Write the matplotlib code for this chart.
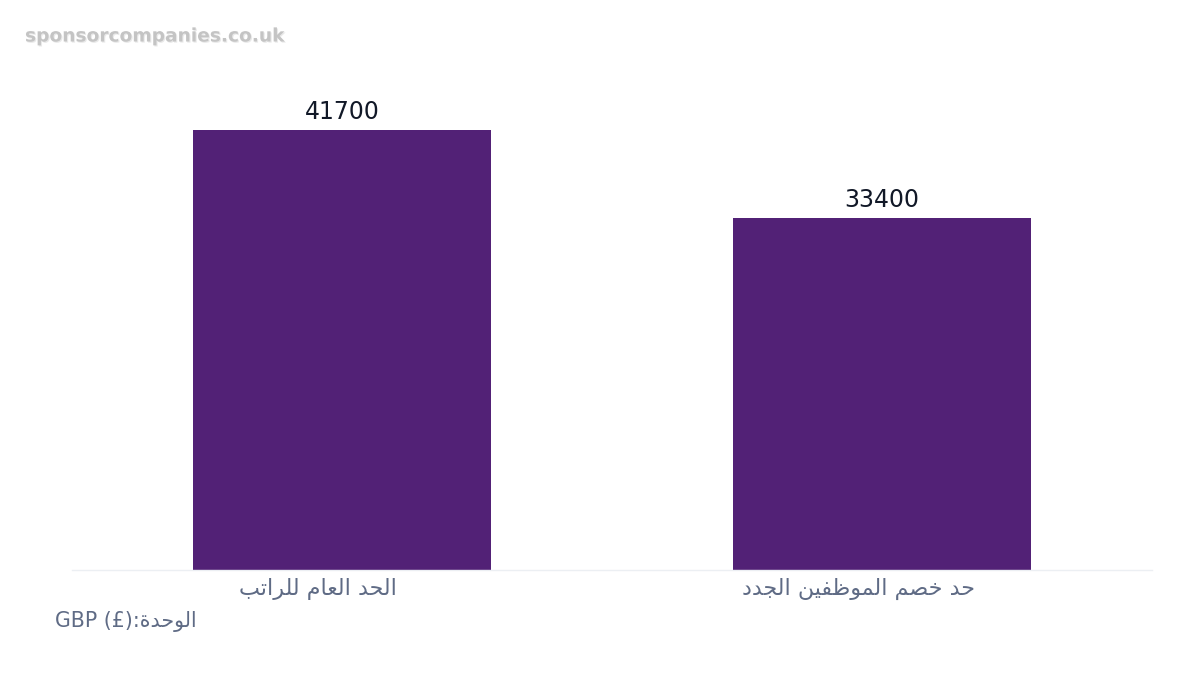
import matplotlib
matplotlib.use("Agg")
import matplotlib.pyplot as plt
from matplotlib.transforms import ScaledTranslation
import matplotlib.patheffects as pe

plt.rcParams["font.family"] = ["DejaVu Sans"]

categories = ["الحد العام للراتب", "حد خصم الموظفين الجدد"]
values = [41700, 33400]
unit_label = "الوحدة:(£) GBP"
watermark = "sponsorcompanies.co.uk"

# matplotlib does no Arabic shaping, so map letters to presentation forms by hand
# letter: (isolated, final, initial, medial) ; None for initial/medial = right-joining only
FORMS = {
    "ا": ("\uFE8D", "\uFE8E", None, None),
    "ب": ("\uFE8F", "\uFE90", "\uFE91", "\uFE92"),
    "ة": ("\uFE93", "\uFE94", None, None),
    "ت": ("\uFE95", "\uFE96", "\uFE97", "\uFE98"),
    "ج": ("\uFE9D", "\uFE9E", "\uFE9F", "\uFEA0"),
    "ح": ("\uFEA1", "\uFEA2", "\uFEA3", "\uFEA4"),
    "خ": ("\uFEA5", "\uFEA6", "\uFEA7", "\uFEA8"),
    "د": ("\uFEA9", "\uFEAA", None, None),
    "ر": ("\uFEAD", "\uFEAE", None, None),
    "ص": ("\uFEB9", "\uFEBA", "\uFEBB", "\uFEBC"),
    "ظ": ("\uFEC5", "\uFEC6", "\uFEC7", "\uFEC8"),
    "ع": ("\uFEC9", "\uFECA", "\uFECB", "\uFECC"),
    "ف": ("\uFED1", "\uFED2", "\uFED3", "\uFED4"),
    "ل": ("\uFEDD", "\uFEDE", "\uFEDF", "\uFEE0"),
    "م": ("\uFEE1", "\uFEE2", "\uFEE3", "\uFEE4"),
    "ن": ("\uFEE5", "\uFEE6", "\uFEE7", "\uFEE8"),
    "و": ("\uFEED", "\uFEEE", None, None),
    "ي": ("\uFEF1", "\uFEF2", "\uFEF3", "\uFEF4"),
}


def shape_word(word):
    out = []
    for i, ch in enumerate(word):
        if ch not in FORMS:
            out.append(ch)
            continue
        iso, fin, ini, med = FORMS[ch]
        prev = word[i - 1] if i > 0 else None
        nxt = word[i + 1] if i + 1 < len(word) else None
        joins_prev = prev in FORMS and FORMS[prev][2] is not None
        joins_next = ini is not None and nxt in FORMS
        if joins_prev and joins_next:
            out.append(med)
        elif joins_prev:
            out.append(fin)
        elif joins_next:
            out.append(ini)
        else:
            out.append(iso)
    return "".join(reversed(out))


def rtl(text):
    return " ".join(shape_word(w) for w in reversed(text.split(" ")))


def unit_text(text):
    arabic, rest = text.split(":", 1)
    rest = rest.strip()
    return rest.split(" ")[1] + " " + rest.split(" ")[0] + ":" + shape_word(arabic)


fig = plt.figure(figsize=(12, 6.75), dpi=100)
ax = fig.add_axes([0.06, 0.1556, 0.90, 0.726])

x = range(len(categories))
bars = ax.bar(x, values, width=0.552, color="#522176", zorder=2)

for b, v in zip(bars, values):
    ax.annotate(str(v), (b.get_x() + b.get_width() / 2, v), xytext=(0, 4),
                textcoords="offset points", ha="center", va="bottom",
                fontsize=17, color="#111827")

ax.set_xlim(-0.5, 1.5)
ax.set_ylim(0, 46440)
ax.set_xticks(list(x))
ax.set_xticklabels([rtl(c) for c in categories], fontsize=16, color="#5f6b85")
ax.tick_params(axis="x", length=0, pad=6)
# labels sit a bit left of the bar centres in the original
shift = ScaledTranslation(-24 / 100, 0, fig.dpi_scale_trans)
for lbl in ax.get_xticklabels():
    lbl.set_transform(lbl.get_transform() + shift)
ax.set_yticks([])
for s in ["top", "right", "left"]:
    ax.spines[s].set_visible(False)
ax.spines["bottom"].set_color("#eceff3")
ax.spines["bottom"].set_linewidth(1)

fig.text(55 / 1200, 1 - 621 / 675, unit_text(unit_label), fontsize=14.8,
         color="#5f6b85", ha="left", va="center")

fig.text(25 / 1200, 1 - 36 / 675, watermark, fontsize=13.4, fontweight="bold",
         color="#c4c4c4", ha="left", va="center",
         path_effects=[pe.withSimplePatchShadow(offset=(0.8, -0.8), shadow_rgbFace="#e4e4e4", alpha=0.8)])

fig.savefig("out.png", dpi=100, facecolor="white")
